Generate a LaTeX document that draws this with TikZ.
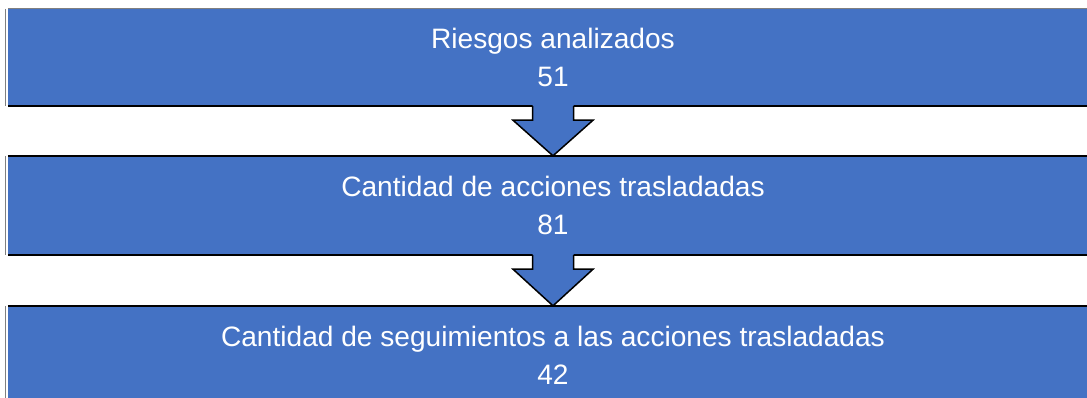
\documentclass[tikz,border=0pt]{standalone}
\usepackage{fontspec}
\setmainfont{Liberation Sans}
\usetikzlibrary{calc}
\definecolor{boxblue}{HTML}{4472C4}
\definecolor{edgegray}{HTML}{808080}
\tikzset{
  stagebox/.style={rectangle, fill=boxblue, minimum width=1090pt, inner sep=0pt,
    text=white, align=center, font=\fontsize{28.1}{38}\selectfont},
  darkedge/.style={black, line width=2pt},
  grayedge/.style={edgegray, line width=1pt},
  flowarrow/.style={black, line width=1.5pt, line join=miter}
}
\begin{document}
\begin{tikzpicture}[x=1pt,y=-1pt]
\useasboundingbox (0,0) rectangle (1087,398);
\clip (0,0) rectangle (1087,398);
\node[stagebox, minimum height=97pt] (b1) at (553,57.5) {Riesgos analizados\\51};
\node[stagebox, minimum height=99pt] (b2) at (553,205.5) {Cantidad de acciones trasladadas\\81};
\node[stagebox, minimum height=98pt] (b3) at (553,355) {Cantidad de seguimientos a las acciones trasladadas\\42};
% box edges
\draw[grayedge] (b1.north west) -- (b1.north east);
\draw[grayedge] ($(b1.north west)+(-2,0)$) -- ($(b1.south west)+(-2,0)$);
\draw[darkedge] (b1.south west) -- (b1.south east);
\draw[darkedge] (b2.north west) -- (b2.north east);
\draw[darkedge] (b2.south west) -- (b2.south east);
\draw[grayedge] ($(b2.north west)+(-2,0)$) -- ($(b2.south west)+(-2,0)$);
\draw[darkedge] (b3.north west) -- (b3.north east);
\draw[grayedge] ($(b3.north west)+(-2,0)$) -- ($(b3.south west)+(-2,0)$);
% arrows
\foreach \up/\dn in {b1/b2, b2/b3}{
  \coordinate (s) at (\up.south);
  \coordinate (t) at (\dn.north);
  \fill[boxblue] ($(s)+(-20.5,-3)$) -- ($(s)+(-20.5,14)$) -- ($(s)+(-40,14)$) -- (t)
    -- ($(s)+(40,14)$) -- ($(s)+(20.5,14)$) -- ($(s)+(20.5,-3)$) -- cycle;
  \draw[flowarrow] ($(s)+(-20.5,0)$) -- ($(s)+(-20.5,14)$) -- ($(s)+(-40,14)$) -- (t)
    -- ($(s)+(40,14)$) -- ($(s)+(20.5,14)$) -- ($(s)+(20.5,0)$);
}
\end{tikzpicture}
\end{document}
